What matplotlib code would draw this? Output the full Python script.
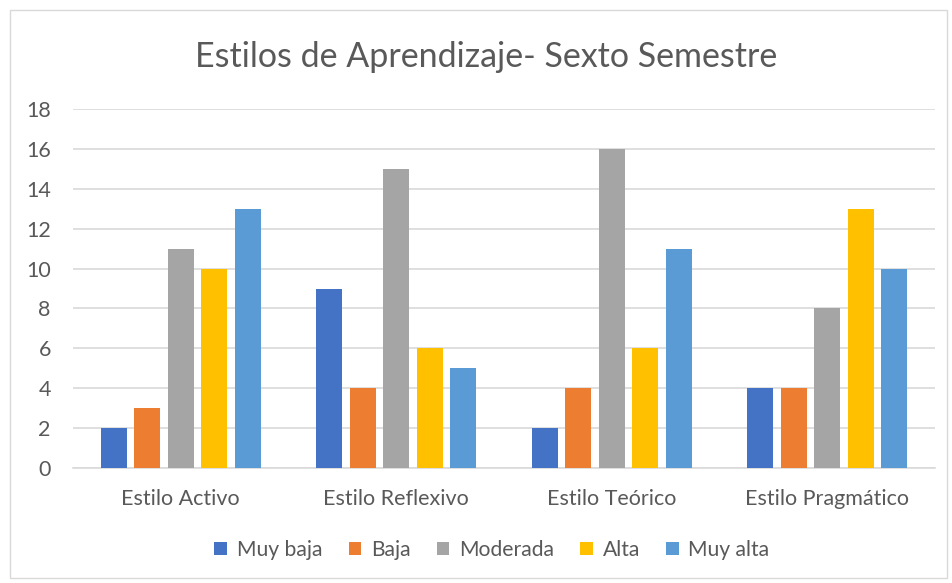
import matplotlib
matplotlib.use("Agg")
import matplotlib.pyplot as plt
import numpy as np
from matplotlib.patches import Rectangle

categories = ["Estilo Activo", "Estilo Reflexivo", "Estilo Teórico", "Estilo Pragmático"]
series_names = ["Muy baja", "Baja", "Moderada", "Alta", "Muy alta"]
muy_baja = [2, 9, 2, 4]
baja = [3, 4, 4, 4]
moderada = [11, 15, 16, 8]
alta = [10, 6, 6, 13]
muy_alta = [13, 5, 11, 10]
series_values = [muy_baja, baja, moderada, alta, muy_alta]
colors = ["#4472C4", "#ED7D31", "#A5A5A5", "#FFC000", "#5B9BD5"]
yticks = [0, 2, 4, 6, 8, 10, 12, 14, 16, 18]

plt.rcParams['font.family'] = ['Lato', 'DejaVu Sans']

W, H = 952, 583
fig = plt.figure(figsize=(W/100, H/100), dpi=100)
ax = fig.add_axes([73/W, 1-467.7/H, (935-73)/W, (467.7-109.3)/H])

x = np.arange(len(categories))
step = 0.155
width = 0.121
for i, (name, vals, c) in enumerate(zip(series_names, series_values, colors)):
    ax.bar(x + (i-2)*step, vals, width=width, color=c, label=name, zorder=3)

ax.set_xlim(-0.5, len(categories)-0.5)
ax.set_ylim(0, 18)
ax.set_yticks(yticks)
ax.set_xticks(x)
ax.set_xticklabels(categories)
ax.grid(axis='y', color='#D9D9D9', linewidth=1.2, zorder=0)
for s in ['top', 'right', 'left']:
    ax.spines[s].set_visible(False)
ax.spines['bottom'].set_color('#D9D9D9')
ax.spines['bottom'].set_linewidth(1.2)
ax.tick_params(axis='both', length=0, labelsize=15.5, colors='#595959')
ax.tick_params(axis='x', pad=15.5)
ax.tick_params(axis='y', pad=16)
for t in ax.get_yticklabels():
    t.set_horizontalalignment('right')

fig.text(486.5/W, 1-57/H, "Estilos de Aprendizaje- Sexto Semestre", ha='center', va='center',
         fontsize=24.5, color='#595959')

leg = fig.legend(loc='center', bbox_to_anchor=(492/W, 1-550/H), ncol=5, frameon=False,
                 fontsize=15.2, handlelength=0.6, handleheight=0.6, columnspacing=1.25,
                 handletextpad=0.45, labelcolor='#595959')

fig.patches.append(Rectangle((10/W, 1-578/H), (947-10)/W, (578-10)/H, transform=fig.transFigure,
                             fill=False, edgecolor='#D9D9D9', linewidth=1))

fig.savefig("out.png", dpi=100)
